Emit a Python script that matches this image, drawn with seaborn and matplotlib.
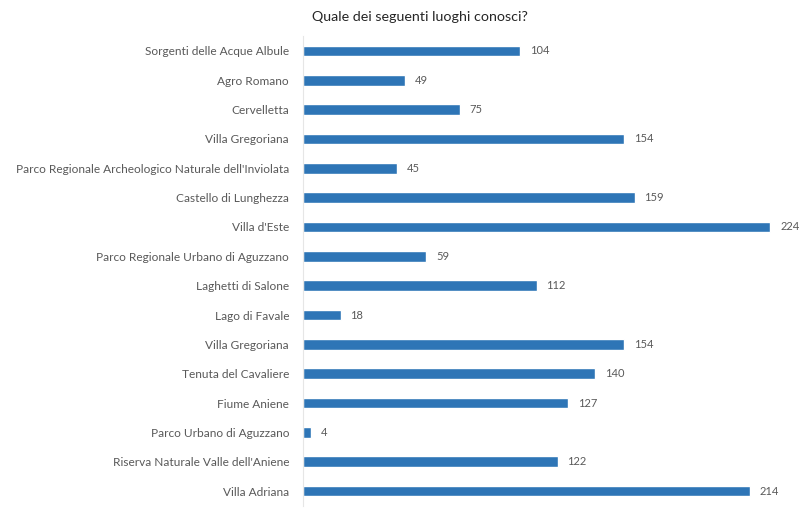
import matplotlib
matplotlib.use("Agg")
import matplotlib.pyplot as plt
import seaborn as sns
import pandas as pd

categories = [
    "Sorgenti delle Acque Albule",
    "Agro Romano",
    "Cervelletta",
    "Villa Gregoriana",
    "Parco Regionale Archeologico Naturale dell'Inviolata",
    "Castello di Lunghezza",
    "Villa d'Este",
    "Parco Regionale Urbano di Aguzzano",
    "Laghetti di Salone",
    "Lago di Favale",
    "Villa Gregoriana ",
    "Tenuta del Cavaliere",
    "Fiume Aniene",
    "Parco Urbano di Aguzzano",
    "Riserva Naturale Valle dell'Aniene",
    "Villa Adriana",
]
values = [104, 49, 75, 154, 45, 159, 224, 59, 112, 18, 154, 140, 127, 4, 122, 214]
title = "Quale dei seguenti luoghi conosci?"

df = pd.DataFrame({"luogo": categories, "n": values})

sns.set_theme(style="white")
plt.rcParams["font.family"] = ["Lato", "DejaVu Sans"]

fig = plt.figure(figsize=(8.04, 5.21), dpi=100)
ax = fig.add_axes([303 / 804, 1 - 505.7 / 521, 480 / 804, (505.7 - 36.3) / 521])

sns.barplot(data=df, y="luogo", x="n", orient="h", color="#2E75B6",
            saturation=1, width=0.37, ax=ax)

ax.set_xlim(0, 230)
ax.set_ylim(15.5, -0.5)
ax.set_xlabel("")
ax.set_ylabel("")
ax.set_xticks([])
ax.set_yticks(range(len(categories)))
ax.set_yticklabels([c.strip() for c in categories], fontsize=8.6, color="#595959")
ax.tick_params(axis="y", length=0, pad=10)
for s in ["top", "right", "bottom"]:
    ax.spines[s].set_visible(False)
ax.spines["left"].set_color("#E6E6E6")
ax.spines["left"].set_linewidth(0.8)

for cont in ax.containers:
    ax.bar_label(cont, labels=[str(v) for v in values], padding=7,
                 fontsize=8, color="#595959")

fig.text(420 / 804, 1 - 17 / 521, title, ha="center", va="center",
         fontsize=10.3, color="#262626")

fig.savefig("out.png", dpi=100)
